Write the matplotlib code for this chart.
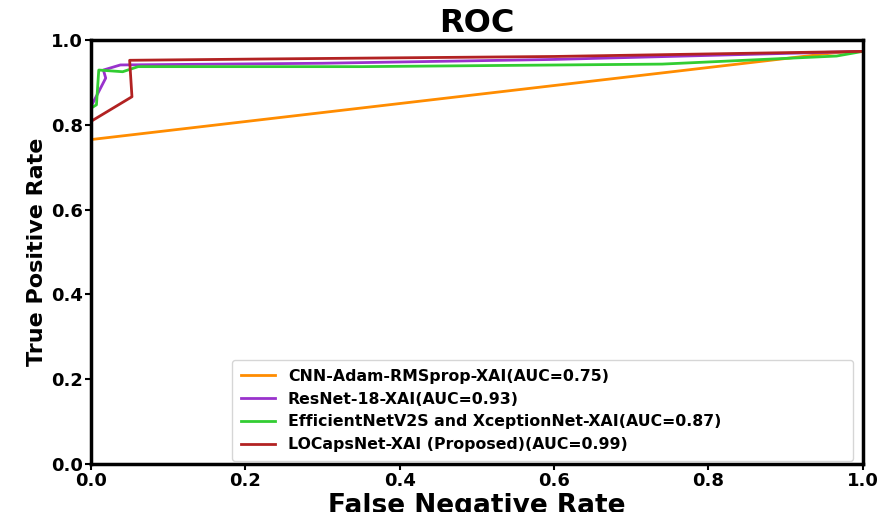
import numpy as np
import matplotlib
matplotlib.use("Agg")
import matplotlib.pyplot as plt

plt.rcParams['font.family'] = ['DejaVu Sans']

# ROC curve points
fpr_cnn = [0.0, 0.965, 1.0]
tpr_cnn = [0.765, 0.970, 0.973]

fpr_resnet = [0.0, 0.019, 0.016, 0.038, 0.3, 0.6, 1.0]
tpr_resnet = [0.843, 0.910, 0.929, 0.941, 0.945, 0.954, 0.973]

fpr_eff = [0.0, 0.007, 0.010, 0.041, 0.061, 0.35, 0.74, 0.966, 1.0]
tpr_eff = [0.839, 0.847, 0.929, 0.925, 0.937, 0.937, 0.943, 0.962, 0.973]

fpr_loc = [0.0, 0.053, 0.050, 0.22, 0.6, 1.0]
tpr_loc = [0.808, 0.866, 0.952, 0.955, 0.961, 0.973]

labels = ["CNN-Adam-RMSprop-XAI(AUC=0.75)",
          "ResNet-18-XAI(AUC=0.93)",
          "EfficientNetV2S and XceptionNet-XAI(AUC=0.87)",
          "LOCapsNet-XAI (Proposed)(AUC=0.99)"]
colors = ["darkorange", "darkorchid", "limegreen", "firebrick"]

fig = plt.figure(figsize=(8.84, 5.12), dpi=100)
ax = fig.add_axes([0.103, 0.094, 0.873, 0.828])

curves = [(fpr_cnn, tpr_cnn), (fpr_resnet, tpr_resnet),
          (fpr_eff, tpr_eff), (fpr_loc, tpr_loc)]
for (x, y), lab, c in zip(curves, labels, colors):
    ax.plot(x, y, color=c, lw=2, label=lab)

ax.set_xlim(0, 1)
ax.set_ylim(0, 1)
ax.set_xticks(np.arange(0, 1.01, 0.2))
ax.set_yticks(np.arange(0, 1.01, 0.2))
for lbl in ax.get_xticklabels() + ax.get_yticklabels():
    lbl.set_fontweight("bold")
    lbl.set_fontsize(13)
ax.tick_params(width=1.5, length=4, pad=2)
for s in ax.spines.values():
    s.set_linewidth(2.5)
    s.set_color("black")

ax.set_xlabel("False Negative Rate", fontsize=19, fontweight="bold", labelpad=2)
ax.set_ylabel("True Positive Rate", fontsize=16, fontweight="bold", labelpad=3)
ax.set_title("ROC", fontsize=23, fontweight="bold", pad=6)

# legend box stretched like the reference
leg = ax.legend(loc="lower left", bbox_to_anchor=(0.183, 0.007, 0.804, 0.236),
                mode="expand", prop={"weight": "bold", "size": 11.3},
                handlelength=2.2, borderaxespad=0.0, borderpad=0.55)

fig.savefig("out.png", dpi=100)
